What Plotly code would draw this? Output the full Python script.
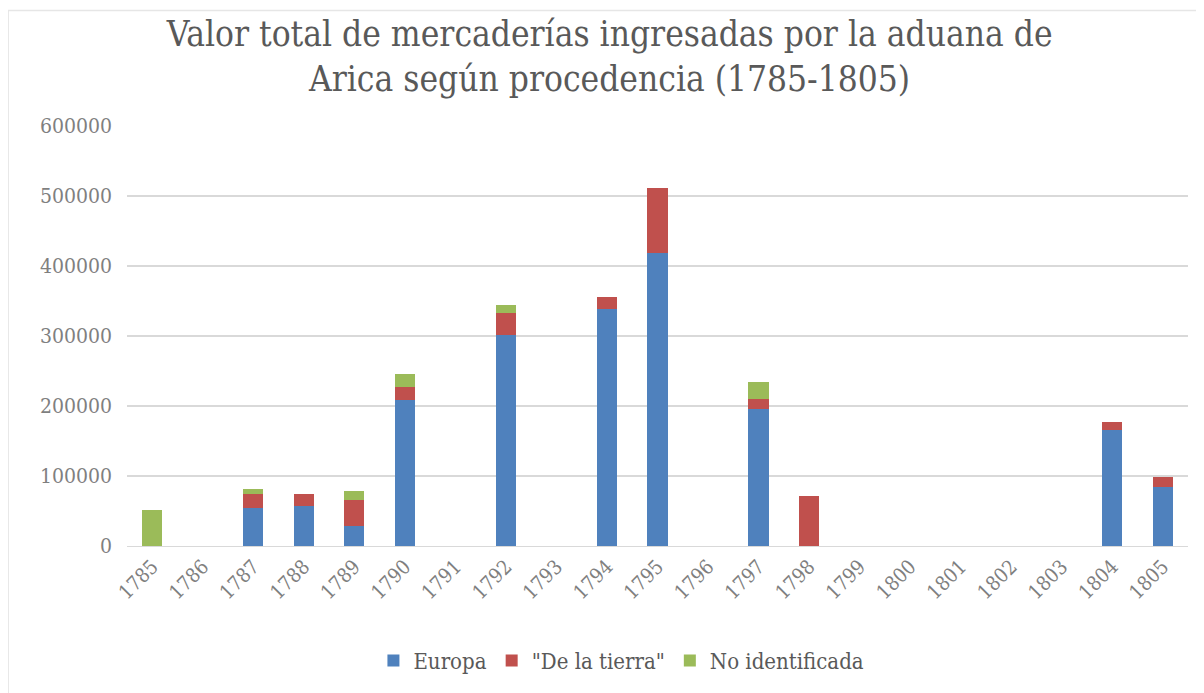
import plotly.graph_objects as go

years = [str(y) for y in range(1785, 1806)]
europa = [None, None, 54000, 57000, 29000, 208000, None, 301000, None, 338000, 419000,
          None, 196000, None, None, None, None, None, None, 166000, 85000]
tierra = [None, None, 20000, 18000, 37000, 19000, None, 32000, None, 18000, 93000,
          None, 14000, 71000, None, None, None, None, None, 11000, 13000]
no_ident = [51000, None, 7000, None, 12000, 19000, None, 12000, None, None, None,
            None, 24000, None, None, None, None, None, None, None, None]

series = [("Europa", europa, "#4f81bd"),
          ('"De la tierra"', tierra, "#c0504d"),
          ("No identificada", no_ident, "#9bbb59")]

fig = go.Figure()
for name, vals, col in series:
    fig.add_trace(go.Bar(x=years, y=vals, name=name, marker_color=col,
                         marker_line_width=0))

serif = "DejaVu Serif Condensed, DejaVu Serif, serif"
fig.update_layout(
    barmode="stack",
    bargap=0.6,
    width=1196, height=685,
    paper_bgcolor="white", plot_bgcolor="white",
    margin=dict(l=119, r=16, t=118, b=146),
    title=dict(text="Valor total de mercaderías ingresadas por la aduana de<br>Arica según procedencia (1785-1805)",
               x=0.503, xanchor="center", y=0.945, yanchor="top",
               font=dict(family=serif, size=35, color="#595959")),
    font=dict(family=serif, color="#595959"),
    legend=dict(orientation="h", x=0.466, xanchor="center", y=-0.22, yanchor="top",
                font=dict(family=serif, size=22, color="#595959"),
                itemwidth=30, traceorder="normal"),
    showlegend=True,
)
fig.update_xaxes(type="category", tickangle=-45, tickfont=dict(size=20, color="#7f7f7f"),
                 showgrid=False, showline=True, linecolor="#d9d9d9", ticks="")
fig.update_yaxes(range=[0, 600000], dtick=100000, tickformat="d",
                 showgrid=True, gridcolor="#d9d9d9", gridwidth=1.5,
                 tickfont=dict(size=21, color="#7f7f7f"), zeroline=False,
                 ticklabelstandoff=14)
fig.add_shape(type="rect", xref="paper", yref="paper", x0=-0.112, x1=1.05, y0=-0.4, y1=1.275,
              line=dict(color="#e6e6e6", width=1.5))
fig.write_html("out.html")
